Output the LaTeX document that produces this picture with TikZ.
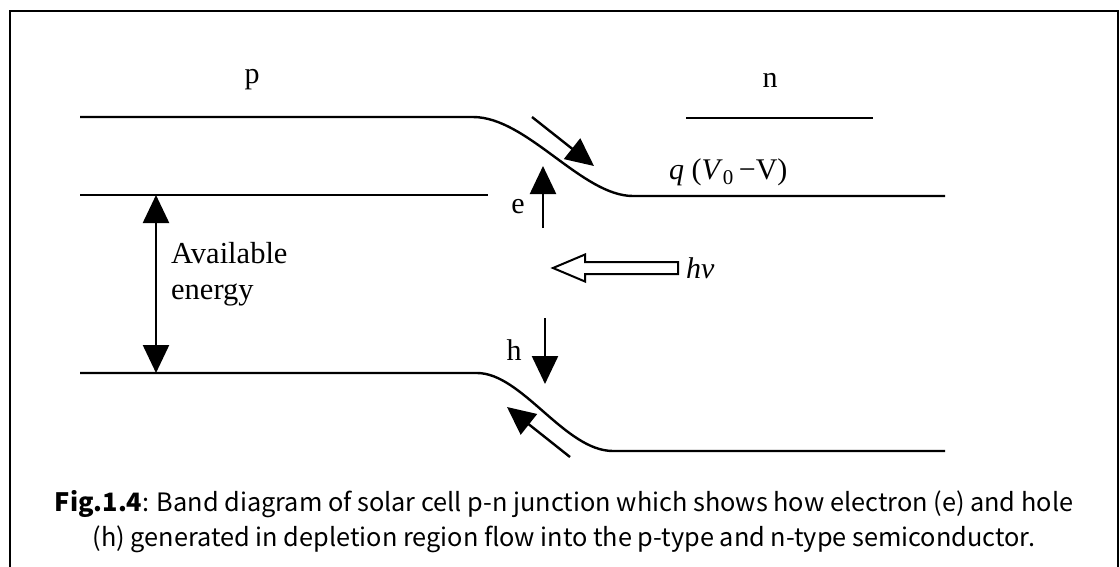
\documentclass[tikz,border=0pt]{standalone}
\usepackage{fontspec}
\setmainfont{Liberation Serif}
\newfontfamily\capfont{Noto Sans CJK SC}
\usetikzlibrary{arrows.meta}
\tikzset{
  band/.style={line width=2.4pt, line cap=butt},
  bigarrow/.style={line width=2.4pt, -{Triangle[length=28pt,width=26pt]}},
  dblarrow/.style={line width=2.4pt, {Triangle[length=28pt,width=26pt]}-{Triangle[length=28pt,width=26pt]}},
  lbl/.style={inner sep=0pt, font=\fontsize{30}{34}\selectfont},
  caption/.style={inner sep=0pt, font=\capfont\fontsize{25.3}{35}\selectfont, align=center},
  hollow/.style={line width=2pt, fill=white, line join=miter}
}
\begin{document}
\begin{tikzpicture}[x=1pt,y=-1pt]
\useasboundingbox (0,0) rectangle (1120,566);
\fill[white] (0,0) rectangle (1120,566);
% frame (open at bottom)
\draw[line width=2.6pt] (10,570) -- (10,11) -- (1118,11) -- (1118,570);

% coordinates
\coordinate (cbL) at (80,117);
\coordinate (cbA) at (473,117);
\coordinate (cbB) at (633,196);
\coordinate (cbR) at (945,196);
\coordinate (efL) at (80,195);
\coordinate (efR) at (488,195);
\coordinate (nL) at (686,118);
\coordinate (nR) at (873,118);
\coordinate (vbL) at (80,373);
\coordinate (vbA) at (477,373);
\coordinate (vbB) at (613,451);
\coordinate (vbR) at (945,451);

% bands
\draw[band] (cbL) -- (cbA) .. controls (527,117) and (582,196) .. (cbB) -- (cbR);
\draw[band] (efL) -- (efR);
\draw[band] (nL) -- (nR);
\draw[band] (vbL) -- (vbA) .. controls (522,373) and (565,451) .. (vbB) -- (vbR);

% labels
\node[lbl] (p) at (252,80) {p};
\node[lbl] (n) at (770,80) {n};
\node[lbl, anchor=west] (q) at (669,172) {\textit{q} (\textit{V}\textsubscript{0}\,−V)};
\node[lbl, anchor=north west, align=left, font=\fontsize{30.5}{36}\selectfont] (avail) at (171,242) {Available\\energy};
\node[lbl] (e) at (518,207) {e};
\node[lbl] (h) at (514,350) {h};
\node[lbl, anchor=west, font=\fontsize{30}{34}\itshape] (hv) at (686,268) {hv};

% available energy arrow
\coordinate (aeT) at (156,195);
\coordinate (aeB) at (156,373);
\draw[dblarrow] (aeT) -- (aeB);

% electron arrows
\coordinate (e1s) at (532,117);
\coordinate (e1t) at (594,166);
\draw[bigarrow] (e1s) -- (e1t);
\coordinate (e2s) at (543,228);
\coordinate (e2t) at (543,166);
\draw[bigarrow] (e2s) -- (e2t);

% hole arrows
\coordinate (h1s) at (545,318);
\coordinate (h1t) at (545,384);
\draw[bigarrow] (h1s) -- (h1t);
\coordinate (h2s) at (570,457);
\coordinate (h2t) at (507,407);
\draw[bigarrow] (h2s) -- (h2t);

% hollow photon arrow
\draw[hollow] (553,268) -- (585,254.5) -- (585,262) -- (678,262) -- (678,274) -- (585,274) -- (585,281.5) -- cycle;

% caption
\node[caption] (cap) at (564,522) {\textbf{Fig.1.4}: Band diagram of solar cell p-n junction which shows how electron (e) and hole\\(h) generated in depletion region flow into the p-type and n-type semiconductor.};
\end{tikzpicture}
\end{document}
